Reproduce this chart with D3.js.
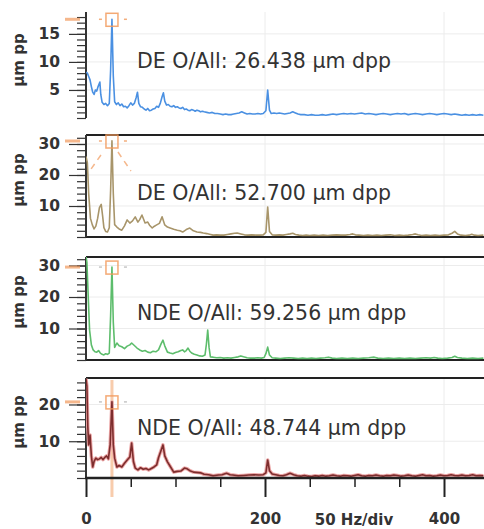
<!DOCTYPE html>
<html>
<head>
<meta charset="utf-8">
<script src="https://cdn.jsdelivr.net/npm/d3@7"></script>
<style>
  body { margin: 0; background: #fff; }
  text { font-family: "DejaVu Sans", Verdana, sans-serif; }
</style>
</head>
<body>
<svg id="chart" width="484" height="529"></svg>
<script>
// DATA
const freqMajorTicks = [0, 200, 400];
const freqMinorTicks = [50, 100, 150, 250, 300, 350];
const channelNames = ["DE", "DE", "NDE", "NDE"];
const overallValues = ["26.438", "52.700", "59.256", "48.744"];
const ampMajorTicks = [[5, 10, 15], [10, 20, 30], [10, 20, 30], [10, 20]];
const cursorHz = 29;

// [Hz, µm pp]
const spectrumDE1 = [
  [0,8.2],[1.5,8.0],[3,7.4],[4.5,6.8],[6,5.6],[7.5,4.6],[9,4.2],[10.5,5.0],[12,4.8],[13.5,5.6],
  [15.5,6.4],[16.5,4.2],[18,2.8],[20,2.4],[22,2.6],[24,2.2],[26,2.6],[27.5,8.5],[29,17.6],[30.5,7.5],
  [32,2.9],[34,2.4],[36,2.7],[38,2.2],[40,2.5],[42,2.0],[44,2.1],[46,1.8],[48,2.2],[50,2.7],
  [52,2.3],[54,2.6],[56,3.6],[57.5,4.6],[59,2.6],[61,2.0],[63,1.9],[65,1.6],[67,1.4],[69,1.7],
  [71,1.3],[73,1.4],[75,1.6],[77,1.7],[79,2.1],[81,1.9],[83,2.6],[85,3.8],[86.5,4.5],[88,3.0],
  [90,2.3],[92,2.4],[94,2.1],[96,2.0],[98,2.2],[100,1.9],[102,2.0],[104,1.8],[106,1.7],[108,1.9],
  [110,1.5],[112,1.6],[114,1.4],[116,1.3],[118,1.5],[120,1.4],[122,1.2],[124,1.4],[126,1.3],[128,1.1],
  [130,1.2],[132,1.1],[135,1.0],[138,0.9],[141,1.0],[144,0.8],[147,0.8],[150,0.7],[153,0.6],[156,0.7],
  [159,0.6],[162,0.6],[165,0.7],[168,0.8],[171,0.9],[174,1.1],[177,0.9],[180,0.7],[183,0.8],[186,0.7],
  [189,0.7],[192,0.8],[195,0.7],[198,0.8],[201,1.3],[203,5.0],[205,1.4],[207,0.8],[210,0.9],[213,0.8],
  [216,0.9],[219,0.8],[222,0.7],[225,0.8],[228,0.9],[231,1.1],[234,0.9],[237,0.7],[240,0.6],[244,0.6],
  [248,0.5],[252,0.6],[256,0.5],[260,0.5],[264,0.6],[268,0.5],[272,0.6],[276,0.7],[280,0.6],[284,0.7],
  [288,0.8],[292,0.7],[296,0.8],[300,0.7],[304,0.8],[308,0.9],[312,0.7],[316,0.8],[320,0.7],[324,0.6],
  [328,0.7],[332,0.8],[336,0.7],[340,0.6],[344,0.7],[348,0.8],[352,0.7],[356,0.8],[360,0.6],[364,0.7],
  [368,0.8],[372,0.7],[376,0.6],[380,0.7],[384,0.8],[388,0.7],[392,0.6],[396,0.7],[400,0.8],[404,0.7],
  [408,0.6],[412,0.7],[416,0.6],[420,0.5],[424,0.6],[428,0.5],[432,0.6],[436,0.5],[440,0.6],[444,0.5]
];

const spectrumDE2 = [
  [0,26],[1.5,24],[3,14],[5,6],[7,4],[9,2.6],[11,3.5],[13,6],[15,9.5],[17,10.5],
  [18.5,7],[20,3],[22,1.8],[24,1.6],[26,3],[27.5,15],[29,31],[30.5,14],[32,4],[34.5,3.2],
  [37,2.6],[40,2.2],[43,3.6],[46,5.5],[49,4.5],[52,5.2],[55,6.5],[58,4.8],[60,5.6],[62.5,7.1],
  [66,4.5],[69,4.8],[71,3.8],[74,2.9],[76,3.4],[79,3.9],[82,4.4],[85,6.5],[88,3.9],[91,3.2],
  [94,2.9],[98,2.5],[102,2.2],[105,2.0],[108,1.6],[112,2.4],[116,2.9],[120,2.0],[124,1.6],[128,1.5],
  [131,1.3],[135,1.1],[138,0.9],[142,0.6],[146,0.7],[150,0.6],[154,0.6],[158,0.8],[162,1.0],[166,1.2],
  [169,1.3],[173,1.0],[177,0.7],[181,0.6],[185,0.7],[190,0.6],[194,0.6],[198,0.7],[201,1.5],[203,9.7],
  [205,1.8],[208,0.7],[212,0.6],[216,0.7],[220,0.6],[224,0.8],[228,1.0],[231,1.2],[234,0.8],[238,0.6],
  [242,0.5],[246,0.6],[250,0.5],[255,0.6],[260,0.5],[265,0.6],[270,0.5],[275,0.6],[280,0.7],[285,0.6],
  [290,0.6],[295,0.8],[298,1.0],[301,0.7],[305,0.6],[310,0.5],[315,0.6],[320,0.5],[325,0.6],[330,0.5],
  [335,0.6],[340,0.7],[345,0.5],[350,0.6],[355,0.5],[360,0.6],[365,0.8],[368,1.0],[371,0.7],[375,0.5],
  [380,0.6],[385,0.5],[390,0.6],[395,0.5],[400,0.6],[405,0.7],[409,1.2],[412,1.8],[415,1.0],[419,0.6],
  [424,0.5],[428,0.6],[431,0.9],[434,0.6],[438,0.5],[444,0.6]
];

const spectrumNDE1 = [
  [0,33],[1,31],[2.5,20],[4,9.5],[6,4.8],[8,3.2],[10,2.6],[12,2.5],[14,3.0],[16,2.2],
  [18,1.8],[20,1.6],[22,2.0],[24,1.8],[26,2.2],[27.5,14],[29,29.5],[30.5,12],[32,4],[34.5,5.4],
  [37,4.5],[40,4.2],[43,3.6],[46,4.4],[49,4.8],[51,5.4],[54,4.6],[57,3.8],[60,3.2],[63,2.8],
  [66,3.0],[69,2.5],[72,2.3],[75,2.8],[78,2.6],[81,3.2],[84,5.2],[86,6.3],[88,4.5],[91,2.5],
  [94,2.2],[97,2.0],[100,2.4],[103,2.6],[106,3.0],[108,3.2],[110,2.6],[112,3.0],[114,3.8],[116,2.8],
  [118,2.2],[121,1.8],[124,1.6],[127,1.3],[130,1.2],[133,1.6],[134.5,5],[136,9.5],[137.5,4],[139,1.0],
  [142,0.9],[146,0.7],[150,0.8],[154,0.6],[158,0.7],[162,0.6],[166,0.8],[170,1.0],[173,1.3],[176,1.0],
  [180,0.7],[184,0.6],[188,0.6],[192,0.7],[196,0.6],[199,0.8],[201,2],[203,4.1],[205,1.6],[208,0.7],
  [212,0.6],[217,0.5],[222,0.6],[227,0.7],[232,0.6],[237,0.5],[242,0.6],[247,0.5],[252,0.6],[257,0.5],
  [262,0.6],[267,0.7],[271,0.9],[275,0.6],[280,0.5],[286,0.6],[292,0.5],[298,0.6],[304,0.5],[310,0.6],
  [316,0.7],[322,0.9],[326,0.6],[332,0.5],[338,0.6],[344,0.5],[350,0.6],[356,0.5],[362,0.6],[368,0.5],
  [374,0.6],[380,0.7],[385,0.6],[389,0.8],[393,0.6],[398,0.5],[404,0.6],[409,0.8],[412,1.2],[415,0.8],
  [420,0.6],[426,0.5],[432,0.6],[438,0.5],[444,0.6]
];

const spectrumNDE2 = [
  [0,27],[1,25],[2,14],[3,9],[4.5,11.7],[6,6],[7.5,3.0],[9,4.5],[11,5.4],[13,5.0],
  [15,5.2],[17,5.6],[19,5.0],[21,5.6],[23,6.0],[25,5.2],[27,9],[29,20.7],[30.5,9],[32,5.4],
  [34.5,3.0],[37,3.4],[40,3.0],[43,4.0],[46,4.9],[49,5.7],[51,9.5],[53,4.5],[55,2.7],[58,2.2],
  [61,2.8],[64,2.4],[67,2.6],[70,2.2],[73,2.6],[76,3.0],[79,3.6],[81,5.5],[86,9],[88,6],
  [91,4.4],[94,3.2],[98,1.6],[102,1.8],[106,1.9],[110,2.7],[113,2.5],[116,2.0],[120,1.6],[128,1.4],
  [132,1.0],[137,0.9],[142,0.6],[148,0.8],[152,0.9],[157,1.3],[161,0.9],[164,0.8],[170,0.6],[176,0.7],
  [182,0.8],[188,0.9],[193,0.8],[198,0.9],[201,1.4],[203,4.9],[205,2.0],[208,1.1],[212,0.9],[216,0.7],
  [220,0.6],[224,0.9],[228,1.3],[232,0.9],[236,0.6],[240,0.5],[244,0.7],[248,0.5],[252,0.4],[256,0.6],
  [260,0.5],[264,0.7],[268,0.5],[272,0.6],[276,0.8],[280,0.6],[284,0.5],[288,0.7],[292,0.6],[296,0.5],
  [300,0.7],[304,0.9],[308,0.6],[312,0.5],[316,0.7],[320,0.6],[324,0.8],[328,0.6],[332,0.5],[336,0.7],
  [340,0.6],[344,0.8],[348,0.7],[352,0.5],[356,0.6],[360,0.8],[364,0.6],[368,0.5],[372,0.7],[376,0.9],
  [380,0.6],[384,0.7],[388,0.5],[392,0.6],[396,0.8],[400,0.6],[404,0.7],[408,0.9],[412,0.7],[416,0.6],
  [420,0.8],[424,0.6],[428,0.7],[432,0.9],[436,0.6],[440,0.7],[444,0.6]
];

const spectra = [spectrumDE1, spectrumDE2, spectrumNDE1, spectrumNDE2];

// LAYOUT
const axisX = 86;
const plotRight = 484;
const panels = [
  { top: 12,  bottom: 118, yMax: 18.9, minor: 1, color: "#4a90e2", framed: false, textY: 68,  labelY: 60 },
  { top: 135, bottom: 237, yMax: 32.9, minor: 2, color: "#a8956a", framed: true,  textY: 200, labelY: 180 },
  { top: 257, bottom: 360, yMax: 32.7, minor: 2, color: "#5dbd6c", framed: true,  textY: 320, labelY: 302 },
  { top: 378, bottom: 478, yMax: 27.2, minor: 2, color: "#7d2d2d", framed: true,  textY: 435, labelY: 422, halo: "#eba5a5" }
];
const orange = "#f29a5c";

const svg = d3.select("#chart");

// X SCALE (shared)
const xScale = d3.scaleLinear().domain([0, 400]).range([axisX, 444]);

svg.append("defs").selectAll("clipPath")
  .data(panels)
  .join("clipPath")
  .attr("id", (d, i) => "clip" + i)
  .append("rect")
  .attr("x", axisX)
  .attr("y", d => d.top)
  .attr("width", plotRight - axisX)
  .attr("height", d => d.bottom - d.top);

panels.forEach((p, i) => {
  const g = svg.append("g").attr("class", "panel");
  const data = spectra[i];

  const yScale = d3.scaleLinear().domain([0, p.yMax]).range([p.bottom, p.top]);

  // GRID
  g.selectAll(".hgrid")
    .data(ampMajorTicks[i])
    .join("line")
    .attr("x1", axisX).attr("x2", plotRight)
    .attr("y1", d => yScale(d)).attr("y2", d => yScale(d))
    .attr("stroke", "#ececec").attr("stroke-width", 1);

  g.selectAll(".vgrid")
    .data(freqMajorTicks.slice(1))
    .join("line")
    .attr("x1", d => xScale(d)).attr("x2", d => xScale(d))
    .attr("y1", p.top).attr("y2", p.bottom)
    .attr("stroke", "#ececec").attr("stroke-width", 1);

  // FRAME
  if (p.framed) {
    g.append("line")
      .attr("x1", axisX).attr("x2", plotRight)
      .attr("y1", p.top).attr("y2", p.top)
      .attr("stroke", "#222").attr("stroke-width", 2);
    g.append("line")
      .attr("x1", axisX).attr("x2", plotRight)
      .attr("y1", p.bottom).attr("y2", p.bottom)
      .attr("stroke", "#222").attr("stroke-width", 2);
  }

  // Y AXIS - minor then major
  const minorVals = d3.range(0, p.yMax, p.minor);
  const yMinor = g.append("g")
    .attr("transform", `translate(${axisX},0)`)
    .call(d3.axisLeft(yScale).tickValues(minorVals).tickSize(9).tickFormat(""));
  yMinor.select(".domain").remove();
  yMinor.selectAll("line").attr("stroke", "#333").attr("stroke-width", 1.2);

  const yMajor = g.append("g")
    .attr("transform", `translate(${axisX},0)`)
    .call(d3.axisLeft(yScale).tickValues(ampMajorTicks[i]).tickSize(17).tickPadding(9));
  yMajor.select(".domain").remove();
  yMajor.selectAll("line").attr("stroke", "#333").attr("stroke-width", 1.2);
  yMajor.selectAll("text")
    .attr("fill", "#333")
    .style("font-size", "15.5px")
    .style("font-weight", "bold");

  // peak marker on the axis
  const peak = d3.max(data.filter(d => Math.abs(d[0] - cursorHz) < 1), d => d[1]);
  const peakY = Math.max(yScale(peak), p.top + 6);
  g.append("line")
    .attr("x1", 65).attr("x2", 80)
    .attr("y1", peakY).attr("y2", peakY)
    .attr("stroke", orange).attr("stroke-width", 3).attr("opacity", 0.7);

  g.append("line")
    .attr("x1", axisX).attr("x2", axisX)
    .attr("y1", p.top).attr("y2", p.bottom)
    .attr("stroke", "#333").attr("stroke-width", 2);

  // Y TITLE
  g.append("text")
    .attr("transform", `translate(19,${p.labelY}) rotate(-90)`)
    .attr("text-anchor", "middle")
    .attr("dy", "0.35em")
    .attr("fill", "#333")
    .style("font-size", "15px")
    .style("font-weight", "bold")
    .text("μm pp");

  // CURSOR on bottom panel
  if (i === 3) {
    g.append("line")
      .attr("x1", xScale(cursorHz)).attr("x2", xScale(cursorHz))
      .attr("y1", p.top + 2).attr("y2", 497)
      .attr("stroke", orange).attr("stroke-width", 3).attr("opacity", 0.5);
  }

  // LINE
  const line = d3.line()
    .x(d => xScale(d[0]))
    .y(d => yScale(d[1]));

  const lg = g.append("g").attr("clip-path", `url(#clip${i})`);
  if (p.halo) {
    lg.append("path")
      .attr("d", line(data))
      .attr("fill", "none")
      .attr("stroke", p.halo)
      .attr("stroke-width", 3.5)
      .attr("stroke-linejoin", "round");
  }
  lg.append("path")
    .attr("d", line(data))
    .attr("fill", "none")
    .attr("stroke", p.color)
    .attr("stroke-width", 1.6)
    .attr("stroke-linejoin", "round");

  // CURSOR BOX
  const cx = xScale(cursorHz);
  g.append("rect")
    .attr("x", cx - 6).attr("y", peakY - 6)
    .attr("width", 12).attr("height", 13)
    .attr("fill", "none")
    .attr("stroke", orange).attr("stroke-width", 1.5).attr("opacity", 0.85);
  [-13, 12].forEach(dx => {
    g.append("line")
      .attr("x1", cx + dx).attr("x2", cx + dx + 3)
      .attr("y1", peakY).attr("y2", peakY)
      .attr("stroke", i < 2 ? orange : "#b9b9b9")
      .attr("stroke-width", 1.5).attr("opacity", 0.8);
  });
  if (i === 1) {
    g.append("line")
      .attr("x1", cx - 11).attr("y1", peakY + 14)
      .attr("x2", cx - 23).attr("y2", peakY + 31)
      .attr("stroke", orange).attr("stroke-width", 1.5)
      .attr("stroke-dasharray", "6,5").attr("opacity", 0.7);
    g.append("line")
      .attr("x1", cx + 6).attr("y1", peakY + 11)
      .attr("x2", cx + 19).attr("y2", peakY + 30)
      .attr("stroke", orange).attr("stroke-width", 1.5)
      .attr("stroke-dasharray", "6,5").attr("opacity", 0.7);
  }

  // OVERALL TEXT
  g.append("text")
    .attr("x", 137)
    .attr("y", p.textY)
    .attr("fill", "#333")
    .style("font-size", "20.5px")
    .text(`${channelNames[i]} O/All: ${overallValues[i]} μm dpp`);
});

// X AXIS (bottom panel)
const xBase = panels[3].bottom;
const xMinor = svg.append("g")
  .attr("transform", `translate(0,${xBase})`)
  .call(d3.axisBottom(xScale).tickValues(freqMinorTicks).tickSize(9).tickFormat(""));
xMinor.select(".domain").remove();
xMinor.selectAll("line").attr("stroke", "#222").attr("stroke-width", 1.5);

const xMajor = svg.append("g")
  .attr("transform", `translate(0,${xBase})`)
  .call(d3.axisBottom(xScale).tickValues(freqMajorTicks).tickSize(19).tickPadding(16));
xMajor.select(".domain").remove();
xMajor.selectAll("line").attr("stroke", "#222").attr("stroke-width", 2);
xMajor.selectAll("text")
  .attr("fill", "#333")
  .style("font-size", "15px")
  .style("font-weight", "bold");

svg.append("line")
  .attr("x1", axisX - 1).attr("x2", plotRight)
  .attr("y1", xBase).attr("y2", xBase)
  .attr("stroke", "#222").attr("stroke-width", 2.5);

svg.append("text")
  .attr("x", 354)
  .attr("y", 525)
  .attr("text-anchor", "middle")
  .attr("fill", "#333")
  .style("font-size", "15px")
  .style("font-weight", "bold")
  .text("50 Hz/div");
</script>
</body>
</html>
